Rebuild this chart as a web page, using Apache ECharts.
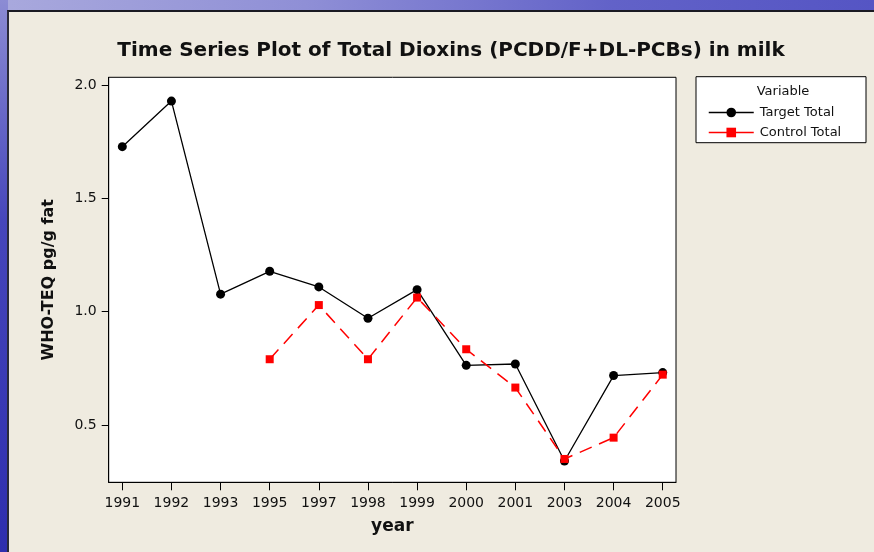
<!DOCTYPE html>
<html lang="en">
  <head>
    <meta charset="UTF-8" />
    <title>Total Dioxins in milk</title>
    <style>
      html,
      body {
        margin: 0;
        width: 874px;
        height: 552px;
        overflow: hidden;
        background: linear-gradient(90deg, #a9a9dd 0%, #8f8fd6 35%, #6262c8 70%, #5555c4 100%);
      }
      #side {
        position: absolute;
        left: 0;
        top: 0;
        width: 8px;
        height: 552px;
        background: linear-gradient(180deg, #8c8cd4 0%, #4646bb 40%, #2e2eae 100%);
      }
      #panel {
        position: absolute;
        left: 7px;
        top: 10px;
        width: 867px;
        height: 542px;
        box-sizing: border-box;
        background: #efebe0;
        border-left: 2px solid #2a2a3a;
        border-top: 2px solid #1a1a22;
      }
      #main {
        position: absolute;
        left: 0;
        top: 0;
        width: 874px;
        height: 552px;
      }
    </style>
  </head>
  <body>
    <div id="side"></div>
    <div id="panel"></div>
    <div id="main"></div>
    <script src="https://cdn.jsdelivr.net/npm/echarts@6.0.0/dist/echarts.min.js"></script>
    <script>
      // data
      const years = ["1991", "1992", "1993", "1995", "1997", "1998", "1999", "2000", "2001", "2003", "2004", "2005"];
      const targetTotal = [1.728, 1.929, 1.077, 1.178, 1.109, 0.971, 1.097, 0.763, 0.769, 0.341, 0.718, 0.731];
      const controlTotal = [null, null, null, 0.79, 1.029, 0.79, 1.062, 0.834, 0.665, 0.35, 0.444, 0.722];
      const yTicks = [0.5, 1.0, 1.5, 2.0];

      const font = "DejaVu Sans";
      const toPairs = (arr) => arr.map((v, i) => [i, v]);
      const xTicks = years.map((y, i) => i);

      const chart = echarts.init(document.getElementById("main"));

      const option = {
        animation: false,
        textStyle: { fontFamily: font },
        title: {
          text: "Time Series Plot of Total Dioxins (PCDD/F+DL-PCBs) in milk",
          left: 446,
          top: 36,
          textAlign: "center",
          textStyle: { fontFamily: font, fontSize: 20, fontWeight: "bold", color: "#111" },
        },
        grid: {
          left: 108.7,
          top: 77.3,
          right: 198,
          bottom: 69.7,
          show: true,
          backgroundColor: "#fff",
          borderColor: "#000",
          borderWidth: 1,
        },
        xAxis: {
          type: "value",
          min: -0.277,
          max: 11.27,
          name: "year",
          nameLocation: "middle",
          nameGap: 36,
          nameTextStyle: { fontFamily: font, fontSize: 17, fontWeight: "bold", color: "#111" },
          axisLine: { show: true, onZero: false, lineStyle: { color: "#000", width: 1 } },
          axisTick: { show: true, length: 8, customValues: xTicks, lineStyle: { color: "#000" } },
          axisLabel: {
            customValues: xTicks,
            margin: 14,
            fontFamily: font,
            fontSize: 14,
            color: "#111",
            formatter: (v) => years[Math.round(v)],
          },
          splitLine: { show: false },
        },
        yAxis: {
          type: "value",
          min: 0.247,
          max: 2.034,
          name: "WHO-TEQ pg/g fat",
          nameLocation: "middle",
          nameGap: 52,
          nameTextStyle: { fontFamily: font, fontSize: 16, fontWeight: "bold", color: "#111" },
          axisLine: { show: true, onZero: false, lineStyle: { color: "#000", width: 1 } },
          axisTick: { show: true, length: 7, customValues: yTicks, lineStyle: { color: "#000" } },
          axisLabel: {
            customValues: yTicks,
            margin: 12,
            fontFamily: font,
            fontSize: 14,
            color: "#111",
            formatter: (v) => v.toFixed(1),
          },
          splitLine: { show: false },
        },
        legend: {
          orient: "vertical",
          left: 703,
          top: 101,
          itemWidth: 45,
          itemHeight: 12,
          itemGap: 7,
          textStyle: { fontFamily: font, fontSize: 13, color: "#111", padding: [0, 0, 0, 1] },
          data: [
            { name: "Target Total", lineStyle: { width: 1.5 } },
            { name: "Control Total", lineStyle: { width: 1.5, type: "solid" } },
          ],
        },
        graphic: [
          {
            type: "rect",
            z: -1,
            shape: { x: 696, y: 76.7, width: 170, height: 66 },
            style: { fill: "#fff", stroke: "#000", lineWidth: 1 },
          },
          {
            type: "text",
            x: 783,
            y: 92,
            style: {
              text: "Variable",
              font: "13px 'DejaVu Sans'",
              fill: "#111",
              align: "center",
              verticalAlign: "middle",
            },
          },
        ],
        series: [
          {
            name: "Target Total",
            type: "line",
            data: toPairs(targetTotal),
            symbol: "circle",
            symbolSize: 9,
            itemStyle: { color: "#000" },
            lineStyle: { color: "#000", width: 1.3 },
          },
          {
            name: "Control Total",
            type: "line",
            data: toPairs(controlTotal),
            symbol: "rect",
            symbolSize: 8,
            itemStyle: { color: "#ff0000" },
            lineStyle: { color: "#ff0000", width: 1.5, type: [13, 8] },
          },
        ],
      };
      chart.setOption(option);
    </script>
  </body>
</html>
